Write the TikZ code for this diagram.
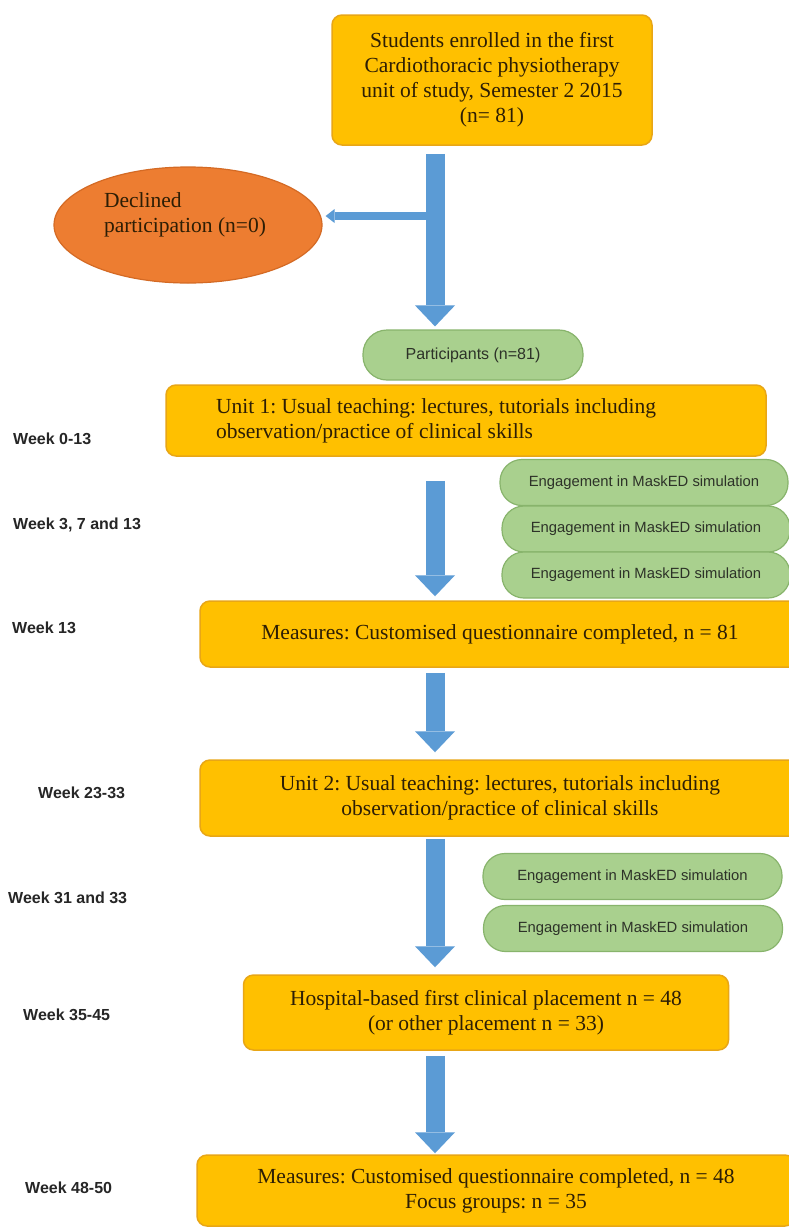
\documentclass[tikz,border=0pt]{standalone}
\usepackage{fontspec}
\setmainfont{Liberation Serif}
\newfontfamily\arialfont{Liberation Sans}
\frenchspacing
\usetikzlibrary{arrows.meta,shapes.geometric}
\definecolor{stagefill}{RGB}{255,192,0}
\definecolor{stageedge}{RGB}{232,166,22}
\definecolor{stagetext}{RGB}{45,30,5}
\definecolor{simfill}{RGB}{169,208,142}
\definecolor{simedge}{RGB}{136,180,108}
\definecolor{simtext}{RGB}{45,50,40}
\definecolor{declfill}{RGB}{237,125,49}
\definecolor{decledge}{RGB}{212,106,36}
\definecolor{flowblue}{RGB}{91,155,213}
\tikzset{
  stage/.style={rectangle, rounded corners=10pt, fill=stagefill, draw=stageedge,
                line width=1.5pt, text=stagetext, align=center, inner sep=0pt,
                font=\fontsize{21.5}{25}\selectfont},
  sim/.style={rectangle, rounded corners=22pt, fill=simfill, draw=simedge, line width=1.2pt,
              text=simtext, inner sep=0pt, minimum height=46pt,
              font=\arialfont\fontsize{14.8}{17}\selectfont},
  declined/.style={ellipse, fill=declfill, draw=decledge, line width=1.2pt,
                   minimum width=268pt, minimum height=116pt},
  decltext/.style={align=flush left, xshift=-3pt, yshift=10.5pt, text=stagetext,
                   font=\fontsize{21.5}{25}\selectfont},
  week/.style={anchor=west, inner sep=0pt, text=black!85,
               font=\arialfont\bfseries\fontsize{16}{19}\selectfont},
  flow/.style={draw=flowblue, line width=19pt,
               -{Triangle[width=40pt,length=21pt,line width=0pt]}},
  sideflow/.style={draw=flowblue, line width=8pt,
                   -{Triangle[width=14pt,length=9pt,line width=0pt]}}
}

\begin{document}
\begin{tikzpicture}[x=1pt,y=-1pt]
\path[fill=white] (0,0) rectangle (789,1227);
\useasboundingbox (0,0) rectangle (789,1227);
\coordinate (axis) at (435,0);
\coordinate (split) at (435,216);

% stages of the study
\node[stage, minimum width=320pt, minimum height=130pt] (enrol) at (492,80)
  {Students enrolled in the first\\Cardiothoracic physiotherapy\\unit of study, Semester 2 2015\\(n= 81)};
\node[declined, label={[decltext]center:{Declined\\participation (n=0)}}] (decl) at (188,225) {};
\node[sim, minimum width=220pt, minimum height=50pt, rounded corners=24pt,
      font=\arialfont\fontsize{16}{19}\selectfont] (part) at (473,355) {Participants (n=81)};
\node[stage, minimum width=600pt, minimum height=71pt, text width=500pt, align=flush left] (unit1) at (466,420.5)
  {Unit 1: Usual teaching: lectures, tutorials including\\observation/practice of clinical skills};
\node[sim, minimum width=288pt] (sim1) at (644,482.5) {Engagement in MaskED simulation};
\node[sim, minimum width=288pt] (sim2) at (646,529) {Engagement in MaskED simulation};
\node[sim, minimum width=288pt] (sim3) at (646,575) {Engagement in MaskED simulation};
\node[stage, minimum width=600pt, minimum height=66pt] (meas1) at (500,634)
  {Measures: Customised questionnaire completed, n = 81};
\node[stage, minimum width=600pt, minimum height=76pt] (unit2) at (500,798)
  {Unit 2: Usual teaching: lectures, tutorials including\\observation/practice of clinical skills};
\node[sim, minimum width=299pt] (sim4) at (632.5,876.5) {Engagement in MaskED simulation};
\node[sim, minimum width=299pt] (sim5) at (633,928.5) {Engagement in MaskED simulation};
\node[stage, minimum width=485pt, minimum height=75pt] (place) at (486,1012.5)
  {Hospital-based first clinical placement n = 48\\(or other placement n = 33)};
\node[stage, minimum width=598pt, minimum height=71pt] (meas2) at (496,1190.5)
  {Measures: Customised questionnaire completed, n = 48\\Focus groups: n = 35};

% weeks
\node[week] (wk1) at (13,439) {Week 0-13};
\node[week] (wk2) at (13,525) {Week 3, 7 and 13};
\node[week] (wk3) at (12,628) {Week 13};
\node[week] (wk4) at (38,793) {Week 23-33};
\node[week] (wk5) at (8,898) {Week 31 and 33};
\node[week] (wk6) at (23,1015) {Week 35-45};
\node[week] (wk7) at (25,1188) {Week 48-50};

% arrows
\draw[sideflow, shorten >=3pt] (split) -- (split -| decl.east);
\draw[flow, shorten <=8pt, shorten >=3pt] (enrol.south -| axis) -- (part.north -| axis);
\draw[flow, shorten <=24pt, shorten >=4pt] (unit1.south -| axis) -- (meas1.north -| axis);
\draw[flow, shorten <=5pt, shorten >=7pt] (meas1.south -| axis) -- (unit2.north -| axis);
\draw[flow, shorten <=2pt, shorten >=7pt] (unit2.south -| axis) -- (place.north -| axis);
\draw[flow, shorten <=5pt, shorten >=1pt] (place.south -| axis) -- (meas2.north -| axis);
\end{tikzpicture}
\end{document}
